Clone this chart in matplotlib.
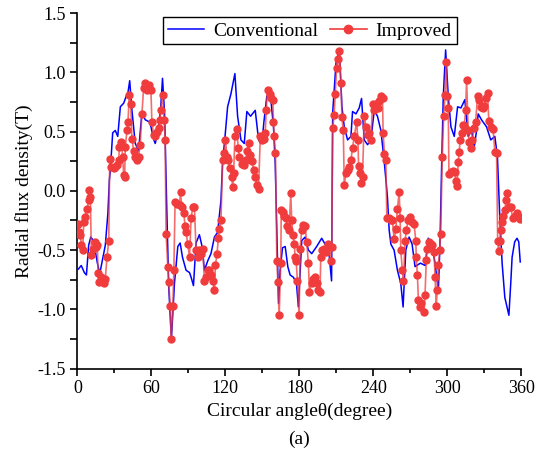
import matplotlib
matplotlib.use('Agg')
import matplotlib.pyplot as plt
from matplotlib.ticker import MultipleLocator

# 字体: Times 风格
plt.rcParams['font.family'] = ['Liberation Serif', 'DejaVu Serif']
plt.rcParams['mathtext.fontset'] = 'stix'

# 常规电机 (蓝线)
conv_angle = [0.8, 3.1, 5.6, 7.3, 9.1, 10.8, 13.0, 16.2, 18.1, 20.0, 22.6, 24.7, 25.9,
              26.7, 28.6, 30.7, 32.7, 34.8, 37.5, 39.6, 41.0, 42.4, 44.2, 46.9, 49.6,
              52.3, 55.0, 58.8, 62.0, 63.1, 65.0, 67.4, 69.0, 70.7, 72.3, 74.0, 76.2,
              78.7, 81.4, 83.3, 85.2, 88.1, 90.9, 92.2, 94.1, 96.2, 98.9, 101.1, 103.0,
              105.7, 108.3, 111.1, 113.7, 116.4, 117.8, 119.2, 121.8, 124.5, 127.7,
              129.9, 132.6, 135.3, 137.4, 140.4, 144.2, 146.9, 149.6, 151.2, 153.6,
              156.6, 159.0, 160.4, 161.7, 163.1, 164.4, 166.3, 168.5, 170.6, 172.5,
              175.2, 177.6, 179.2, 181.9, 184.6, 187.3, 190.0, 194.0, 198.1, 200.8,
              203.5, 206.1, 207.0, 209.7, 212.4, 214.5, 216.4, 219.1, 221.8, 223.1,
              225.9, 228.5, 230.4, 232.6, 235.3, 238.0, 240.7, 243.3, 246.1, 248.7,
              251.4, 252.8, 254.2, 256.8, 259.5, 262.2, 264.1, 266.3, 269.0, 271.4,
              273.8, 278.1, 282.0, 284.5, 287.3, 290.0, 292.7, 294.0, 295.4, 296.7,
              298.6, 300.7, 302.9, 305.6, 308.3, 311.0, 314.2, 316.9, 319.6, 321.8,
              323.7, 325.0, 327.7, 331.8, 335.2, 338.5, 340.6, 342.5, 344.4, 346.6,
              349.9, 351.5, 352.5, 354.6, 356.5, 357.9, 359.1]
conv_flux = [-0.66, -0.63, -0.69, -0.71, -0.46, -0.39, -0.42, -0.61, -0.70, -0.60, -0.46,
             -0.19, 0.09, 0.18, 0.49, 0.51, 0.46, 0.71, 0.74, 0.80, 0.83, 0.93, 0.68,
             0.40, 0.34, 0.66, 0.60, 0.58, 0.43, 0.40, 0.49, 0.68, 0.95, 0.65, -0.08,
             -0.80, -1.25, -0.78, -0.47, -0.44, -0.56, -0.67, -0.69, -0.73, -0.80,
             -0.44, -0.37, -0.47, -0.67, -0.59, -0.53, -0.39, -0.35, -0.08, 0.26, 0.40,
             0.71, 0.82, 0.99, 0.63, 0.43, 0.40, 0.67, 0.63, 0.68, 0.43, 0.40, 0.58,
             0.80, 0.80, 0.54, 0.23, -0.33, -0.95, -0.67, -0.48, -0.47, -0.64, -0.71,
             -0.73, -0.78, -0.98, -0.42, -0.39, -0.50, -0.53, -0.47, -0.40, -0.45,
             -0.47, -0.76, 0.66, 1.08, 1.19, 0.71, 0.54, 0.43, 0.46, 0.67, 0.65, 0.70,
             0.78, 0.43, 0.39, 0.43, 0.68, 0.63, 0.51, 0.26, -0.05, -0.33, -0.45,
             -0.50, -0.67, -0.78, -0.98, -0.50, -0.39, -0.45, -0.64, -0.61, -0.63,
             -0.40, -0.45, -0.61, -0.84, -0.45, 0.23, 0.80, 1.19, 0.80, 0.54, 0.46,
             0.71, 0.70, 0.77, 0.46, 0.51, 0.37, 0.51, 0.65, 0.60, 0.54, 0.43, 0.46,
             0.29, -0.22, -0.61, -0.90, -1.05, -0.76, -0.56, -0.43, -0.40, -0.43, -0.60]

# 改进电机 (红线+圆点)
imp_angle = [0.6, 1.6, 2.4, 3.2, 4.3, 5.1, 6.5, 7.8, 9.2, 9.7, 10.5, 11.3, 12.4, 14.1,
             15.1, 16.2, 16.7, 17.8, 19.4, 21.3, 22.6, 24.0, 25.4, 26.2, 27.5, 29.4,
             30.7, 32.1, 33.5, 34.0, 35.6, 36.7, 37.5, 38.3, 38.8, 40.2, 41.0, 42.0,
             43.2, 44.2, 45.6, 46.9, 48.3, 49.6, 50.9, 52.3, 53.7, 55.0, 56.3, 58.2,
             59.6, 60.4, 61.8, 63.1, 64.4, 65.8, 66.9, 67.5, 69.0, 70.3, 71.1, 71.9,
             73.3, 74.1, 75.2, 76.0, 77.4, 78.2, 79.2, 80.8, 82.8, 83.6, 84.6, 86.3,
             87.3, 88.1, 89.5, 90.9, 92.2, 93.5, 94.9, 96.2, 97.6, 98.9, 100.3, 101.6,
             103.0, 104.3, 105.7, 107.0, 108.3, 109.7, 111.1, 111.9, 113.2, 114.3,
             115.1, 116.4, 117.8, 119.2, 120.0, 121.3, 122.4, 123.7, 125.1, 125.9,
             126.7, 127.7, 129.1, 130.5, 131.3, 133.1, 135.3, 136.5, 137.6, 138.8,
             140.2, 141.5, 142.8, 144.2, 145.5, 146.9, 148.3, 149.6, 150.9, 152.3,
             153.1, 154.2, 155.8, 157.2, 158.4, 159.0, 159.6, 160.6, 161.7, 162.5,
             163.6, 164.9, 165.3, 166.5, 167.9, 169.3, 170.3, 171.7, 173.0, 173.8,
             174.6, 175.8, 176.6, 177.4, 178.4, 179.8, 180.6, 181.9, 183.3, 184.6,
             185.9, 187.3, 188.1, 190.0, 191.4, 192.7, 194.0, 195.4, 196.8, 197.3,
             198.6, 200.0, 201.6, 203.5, 205.3, 206.3, 207.0, 208.1, 209.1, 210.2,
             211.0, 212.4, 213.7, 214.5, 215.6, 216.4, 217.8, 219.1, 220.5, 221.8,
             223.1, 224.5, 226.4, 227.5, 228.0, 229.1, 230.2, 231.2, 232.6, 234.0,
             235.3, 236.6, 238.0, 239.3, 240.7, 242.0, 243.4, 244.7, 246.1, 247.4,
             247.9, 249.0, 250.1, 250.9, 252.8, 254.2, 255.5, 256.8, 258.2, 259.5,
             260.9, 261.7, 262.2, 263.5, 264.4, 265.7, 266.8, 268.1, 269.5, 271.1,
             273.0, 274.4, 274.8, 275.7, 276.5, 277.6, 279.0, 281.1, 281.9, 282.9,
             283.7, 285.1, 286.5, 287.8, 289.2, 290.0, 291.0, 291.8, 292.7, 293.8,
             294.6, 295.9, 297.0, 298.1, 298.9, 299.9, 300.7, 301.3, 302.9, 304.8,
             306.1, 306.7, 307.8, 308.8, 309.6, 310.4, 311.6, 312.9, 313.8, 314.8,
             315.6, 316.9, 317.7, 319.1, 320.1, 321.8, 322.9, 324.5, 325.6, 327.2,
             328.5, 329.8, 331.0, 332.6, 333.6, 335.2, 337.1, 338.5, 339.9, 340.8,
             341.5, 342.3, 343.3, 344.4, 345.5, 346.6, 347.6, 348.5, 349.9, 351.4,
             353.0, 355.2, 356.5, 358.0, 359.0]
imp_flux = [-0.28, -0.35, -0.37, -0.46, -0.50, -0.26, -0.22, -0.15, -0.08, 0.01, -0.05,
            -0.54, -0.49, -0.43, -0.47, -0.46, -0.69, -0.77, -0.73, -0.78, -0.74, -0.56,
            -0.42, 0.27, 0.20, 0.19, 0.20, 0.22, 0.26, 0.37, 0.41, 0.29, 0.13, 0.12,
            0.37, 0.51, 0.58, 0.81, 0.73, 0.44, 0.34, 0.29, 0.26, 0.29, 0.39, 0.65,
            0.87, 0.91, 0.85, 0.89, 0.85, 0.58, 0.47, 0.46, 0.50, 0.53, 0.60, 0.68,
            0.81, 0.60, 0.43, -0.36, -0.64, -0.77, -0.97, -1.25, -0.97, -0.67, -0.09,
            -0.11, -0.12, -0.01, -0.14, -0.19, -0.30, -0.35, -0.45, -0.56, -0.23,
            -0.14, -0.14, -0.50, -0.56, -0.50, -0.53, -0.49, -0.76, -0.73, -0.67,
            -0.67, -0.71, -0.76, -0.84, -0.63, -0.53, -0.40, -0.32, -0.25, 0.26, 0.32,
            0.43, 0.29, 0.26, 0.19, 0.12, 0.03, 0.15, 0.46, 0.52, 0.36, 0.29, 0.23,
            0.22, 0.26, 0.34, 0.40, 0.30, 0.25, 0.18, 0.12, 0.05, 0.02, 0.46, 0.43,
            0.44, 0.49, 0.68, 0.85, 0.82, 0.78, 0.77, 0.58, 0.46, 0.32, -0.59, -0.77,
            -1.05, -0.61, -0.16, -0.18, -0.21, -0.23, -0.30, -0.33, -0.02, -0.25,
            -0.37, -0.45, -0.56, -0.59, -0.76, -1.05, -0.49, -0.33, -0.29, -0.30,
            -0.43, -0.61, -0.85, -0.78, -0.74, -0.73, -0.78, -0.84, -0.85, -0.56,
            -0.50, -0.49, -0.52, -0.45, -0.59, -0.47, 0.53, 0.64, 0.82, 1.04, 1.11,
            1.18, 0.91, 0.62, 0.51, 0.05, 0.15, 0.18, 0.20, 0.26, 0.36, 0.46, 0.58,
            0.43, 0.21, 0.15, 0.07, 0.12, 0.63, 0.54, 0.47, 0.49, 0.43, 0.73, 0.68,
            0.73, 0.70, 0.76, 0.80, 0.78, 0.49, 0.31, 0.26, -0.23, -0.23, -0.25,
            -0.25, -0.41, -0.32, -0.15, -0.01, -0.23, -0.50, -0.67, -0.76, -0.42,
            -0.33, -0.25, -0.22, -0.26, -0.28, -0.42, -0.56, -0.71, -0.92, -0.98,
            -0.95, -1.02, -0.88, -0.58, -0.49, -0.43, -0.45, -0.46, -0.52, -0.73,
            -0.97, -0.84, -0.63, -0.50, -0.36, 0.29, 0.63, 0.81, 1.09, 0.80, 0.70,
            0.14, 0.16, 0.17, 0.16, 0.08, 0.04, 0.24, 0.33, 0.43, 0.49, 0.56, 0.55,
            0.68, 0.94, 0.51, 0.41, 0.36, 0.43, 0.53, 0.58, 0.80, 0.77, 0.71, 0.70,
            0.72, 0.78, 0.83, 0.59, 0.54, 0.52, 0.33, 0.32, -0.42, -0.51, -0.42,
            -0.33, -0.26, -0.21, -0.16, -0.08, -0.02, -0.14, -0.14, -0.23, -0.21,
            -0.19, -0.22, -0.24]

fig = plt.figure(figsize=(5.57, 4.55), dpi=100)
ax = fig.add_axes([0.139, 0.19, 0.797, 0.781])

ax.plot(conv_angle, conv_flux, color='#0000FF', lw=1.1, label='Conventional', zorder=2)
ax.plot(imp_angle, imp_flux, color='#F03C3C', lw=1.2, alpha=0.75, zorder=3)
ax.plot(imp_angle, imp_flux, ls='none', marker='o', ms=5, color='#F03C3C', zorder=4)
# 图例用的代理
h_imp, = ax.plot([], [], color='#F03C3C', lw=1.2, marker='o', ms=6, label='Improved')

# 坐标轴
ax.set_xlim(0, 360)
ax.set_ylim(-1.5, 1.5)
ax.xaxis.set_major_locator(MultipleLocator(60))
ax.xaxis.set_minor_locator(MultipleLocator(30))
ax.yaxis.set_major_locator(MultipleLocator(0.5))
ax.yaxis.set_minor_locator(MultipleLocator(0.25))
ax.yaxis.set_major_formatter(plt.FuncFormatter(lambda v, p: '%.1f' % v))
ax.spines['top'].set_visible(False)
ax.spines['right'].set_visible(False)
ax.spines['left'].set_linewidth(1.2)
ax.spines['bottom'].set_linewidth(1.2)
ax.tick_params(which='major', direction='out', length=5, width=1.2, labelsize=13)
ax.tick_params(which='minor', direction='out', length=3, width=1.2)
ax.tick_params(axis='y', which='minor', length=5)

ax.set_xlabel('Circular angle\u03b8(degree)', fontsize=14, labelpad=4)
ax.set_ylabel('Radial flux density(T)', fontsize=14, labelpad=3)
fig.text(0.537, 0.025, '(a)', ha='center', fontsize=14)

leg = ax.legend(loc='upper center', bbox_to_anchor=(0.523, 1.0), ncol=2, fontsize=14,
                frameon=True, fancybox=False, framealpha=1, edgecolor='black',
                handlelength=1.9, handletextpad=0.45, columnspacing=0.6,
                borderpad=0.25, borderaxespad=0.2)
leg.get_frame().set_linewidth(1.0)

plt.savefig('out.png', dpi=100)
